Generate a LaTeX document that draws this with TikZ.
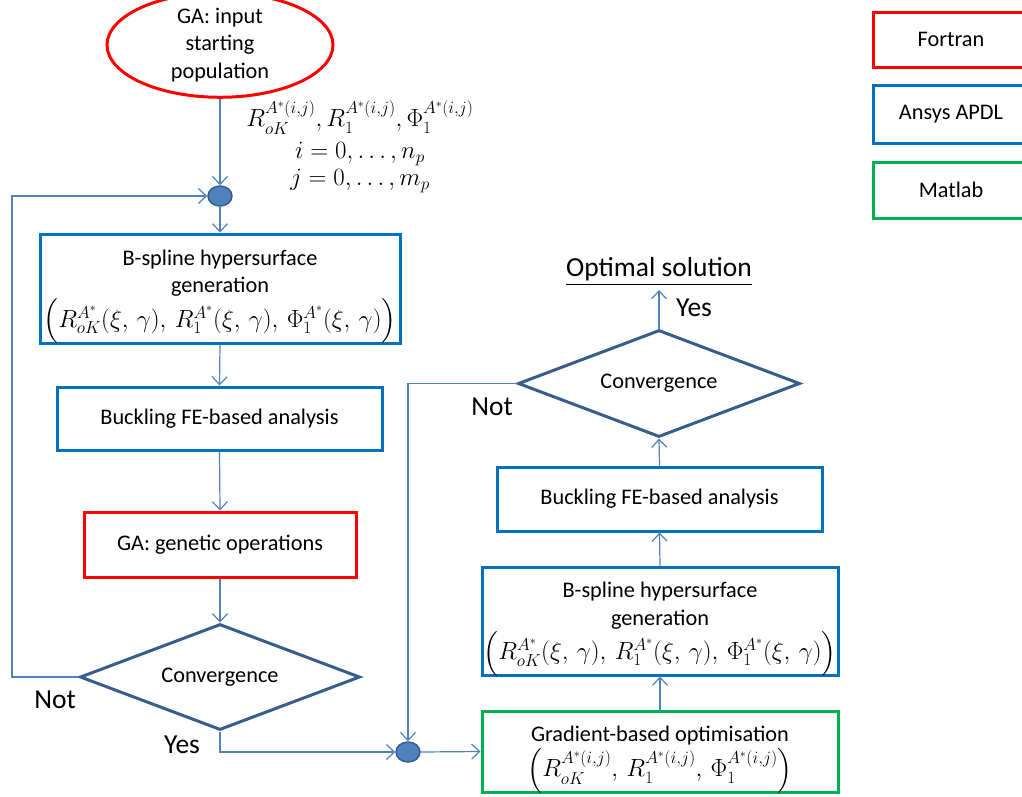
\documentclass[tikz,border=0pt]{standalone}
\usepackage{amsmath}
\usepackage{fontspec}
\setmainfont{Carlito}
\usetikzlibrary{shapes.geometric,arrows.meta}
\definecolor{cred}{RGB}{255,0,0}
\definecolor{cblue}{RGB}{0,112,192}
\definecolor{cgreen}{RGB}{0,176,80}
\definecolor{cdia}{RGB}{56,93,138}
\definecolor{cconn}{RGB}{79,129,189}
\newcommand{\mth}[1]{{\fontsize{24}{28}\selectfont$\smash[b]{#1}$}}
\newcommand{\tightlines}{\lineskiplimit=-100pt\lineskip=0pt\relax}
\tikzset{
  base/.style={font=\fontsize{22.3}{27.5}\selectfont, align=center, inner sep=0pt, fill=white, line width=3pt},
  redbox/.style={base, draw=cred, rectangle},
  bluebox/.style={base, draw=cblue, rectangle},
  greenbox/.style={base, draw=cgreen, rectangle},
  dia/.style={base, diamond, aspect=2.64, draw=cdia},
  dot/.style={ellipse, draw=cdia, fill=cconn, line width=1.5pt, minimum width=24pt, minimum height=20pt, inner sep=0pt},
  conn/.style={draw=cconn, line width=1.2pt, -{Straight Barb[length=8pt,width=15pt,line width=1.2pt]}},
  lbl/.style={font=\fontsize{27.5}{32}\selectfont, inner sep=0pt},
}
\begin{document}
\begin{tikzpicture}[x=1pt,y=-1pt]
\useasboundingbox (0,0) rectangle (1022,796);
% left column
\node[redbox, ellipse, minimum width=226pt, minimum height=86pt] (start) at (220,45) {GA: input\\starting\\population};
\node[font={\fontsize{23}{27}\selectfont\tightlines}, align=center, inner sep=0pt] (vars) at (360,147)
  {$R_{oK}^{A^*(i,j)},R_1^{A^*(i,j)},\Phi_1^{A^*(i,j)}$\\[5pt]$i=0,\dots,n_p$\\$j=0,\dots,m_p$};
\node[dot] (c1) at (220,196) {};
\node[bluebox, minimum width=360pt, minimum height=109pt] (b1) at (220,288.5)
  {B-spline hypersurface\\generation\\[1pt]\mth{\Big(R_{oK}^{A^*}(\xi,\,\gamma),\,R_1^{A^*}(\xi,\,\gamma),\,\Phi_1^{A^*}(\xi,\,\gamma)\Big)}};
\node[bluebox, minimum width=325pt, minimum height=63pt] (b2) at (219.5,418.5) {Buckling FE-based analysis};
\node[redbox, minimum width=272pt, minimum height=65pt] (b3) at (220,544.5) {GA: genetic operations};
\node[dia, minimum width=280pt, minimum height=106pt] (d1) at (220,677) {Convergence};
\node[lbl] (not1) at (55,700) {Not};
\node[lbl] (yes1) at (182,745) {Yes};
\coordinate (L) at (12,196);
% right column
\node[dot] (c2) at (408,752) {};
\node[greenbox, minimum width=356pt, minimum height=81pt] (g) at (660,751.5)
  {Gradient-based optimisation\\[2pt]\mth{\Big(R_{oK}^{A^*(i,j)},\,R_1^{A^*(i,j)},\,\Phi_1^{A^*(i,j)}\Big)}};
\node[bluebox, minimum width=356pt, minimum height=108pt] (b5) at (660,621)
  {B-spline hypersurface\\generation\\[1pt]\mth{\Big(R_{oK}^{A^*}(\xi,\,\gamma),\,R_1^{A^*}(\xi,\,\gamma),\,\Phi_1^{A^*}(\xi,\,\gamma)\Big)}};
\node[bluebox, minimum width=325pt, minimum height=64pt] (b6) at (659.5,499) {Buckling FE-based analysis};
\node[dia, minimum width=282pt, minimum height=107pt] (d2) at (659,383.5) {Convergence};
\node[lbl, anchor=south, inner xsep=0pt, inner ysep=4pt] (opt) at (659,290) {\underline{Optimal solution}};
\node[lbl] (yes2) at (694,308) {Yes};
\node[lbl] (not2) at (492,407) {Not};
% legend
\node[redbox, minimum width=156pt, minimum height=55pt] (lf) at (951,39.5) {Fortran};
\node[bluebox, minimum width=156pt, minimum height=58pt] (la) at (951,114) {Ansys APDL};
\node[greenbox, minimum width=156pt, minimum height=56pt] (lm) at (951,190) {Matlab};
% connectors
\draw[conn] (start.south) -- (c1.north);
\draw[conn] (c1.south) -- (b1.north);
\draw[conn] (b1.south) -- (b2.north);
\draw[conn] (b2.south) -- (b3.north);
\draw[conn] (b3.south) -- (d1.north);
\draw[conn] (d1.west) -| (L) -- (c1.west);
\draw[conn] (d1.south) |- (c2.west);
\draw[conn] (d2.west) -| (c2.north);
\draw[conn] (c2.east) -- (g.west);
\draw[conn] (g.north) -- (b5.south);
\draw[conn] (b5.north) -- (b6.south);
\draw[conn] (b6.north) -- (d2.south);
\draw[conn] (d2.north) -- (opt.south);
\end{tikzpicture}
\end{document}
